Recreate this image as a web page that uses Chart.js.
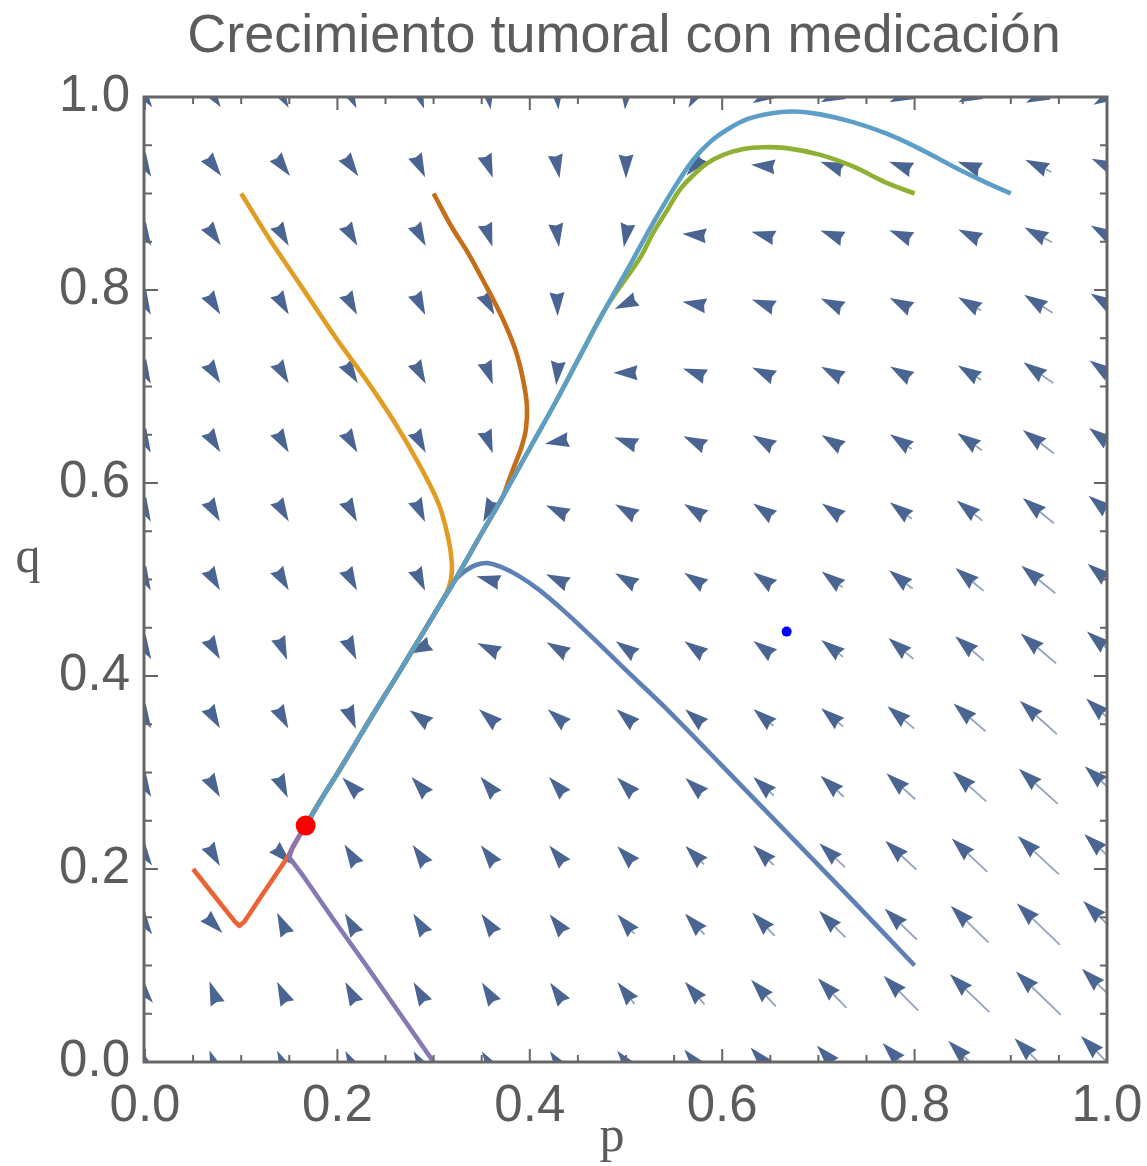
<!DOCTYPE html>
<html>
<head>
<meta charset="utf-8">
<title>Crecimiento tumoral con medicación</title>
<script src="https://cdn.jsdelivr.net/npm/chart.js@4.4.1/dist/chart.umd.min.js"></script>
<style>
  html, body { margin: 0; padding: 0; background: #fff; }
  #wrap { width: 1147px; height: 1166px; }
</style>
</head>
<body>
<div id="wrap"><canvas id="phaseChart" width="1147" height="1166"></canvas></div>
<script>
// grid where the field arrows sit (same for p and q)
const gridValues = [0, 0.0714, 0.1429, 0.2143, 0.2857, 0.3571, 0.4286, 0.5, 0.5714, 0.6429, 0.7143, 0.7857, 0.8571, 0.9286, 1];

// arrow direction in degrees, one row per q value (bottom row first)
const fieldAngle = [
  [-40, 110, 115, 118, 120, 122, 125, 128, 130, 132, 133, 134, 135, 135, 135],
  [-50, 110, 115, 118, 120, 122, 125, 128, 131, 133, 134, 135, 136, 136, 136],
  [-55, -45, 115, 120, 122, 125, 128, 131, 133, 134, 135, 136, 136, 136, 136],
  [-55, -60, -45, 122, 125, 128, 130, 134, 135, 136, 137, 137, 137, 137, 137],
  [-60, -60, -65, 135, 132, 130, 132, 136, 138, 138, 138, 138, 138, 138, 138],
  [-60, -60, -62, -68, 145, 140, 140, 140, 140, 140, 140, 140, 139, 138, 138],
  [-60, -60, -68, -65, -155, 155, 150, 145, 145, 143, 142, 140, 140, 140, 140],
  [-62, -60, -60, -62, -65, 165, 155, 150, 147, 145, 143, 142, 141, 141, 141],
  [-62, -60, -60, -62, -65, -115, 155, 150, 148, 146, 145, 143, 142, 141, 141],
  [-62, -58, -60, -60, -62, -70, -170, 160, 155, 150, 148, 146, 145, 143, 143],
  [-62, -58, -60, -58, -62, -70, -95, 180, 160, 155, 152, 150, 148, 145, 145],
  [-62, -58, -60, -62, -64, -62, -88, -155, 170, 160, 155, 153, 150, 148, 148],
  [-60, -55, -60, -60, -62, -72, -82, -100, 175, 165, 160, 158, 155, 152, 150],
  [-60, -53, -53, -55, -65, -70, -80, -90, -130, 175, 160, 160, 160, 155, 155],
  [-55, -55, -60, -65, -70, -80, -85, -95, -120, -150, -155, -155, -155, -155, -150]
];

// relative arrow length (1 = head only)
const fieldMagnitude = [
  [1, 1, 1, 1, 1, 1, 1.05, 1.15, 1.3, 1.55, 1.8, 2.1, 2.4, 2.7, 2.95],
  [1, 1, 1, 1, 1, 1, 1, 1.1, 1.2, 1.45, 1.65, 1.95, 2.2, 2.5, 2.8],
  [1, 1, 1, 1, 1, 1, 1, 1.05, 1.15, 1.3, 1.5, 1.8, 2.1, 2.4, 2.65],
  [1, 1, 1, 1, 1, 1, 1, 1, 1.05, 1.15, 1.4, 1.7, 1.95, 2.25, 2.5],
  [1, 1, 1, 1, 1, 1, 1, 1, 1, 1.1, 1.25, 1.55, 1.8, 2.1, 2.4],
  [1, 1, 1, 1, 1, 1, 1, 1, 1, 1.05, 1.15, 1.4, 1.7, 2.0, 2.25],
  [1, 1, 1, 1, 1, 1, 1, 1, 1, 1, 1.1, 1.3, 1.5, 1.85, 2.1],
  [1, 1, 1, 1, 1, 1, 1, 1, 1, 1, 1.05, 1.2, 1.45, 1.75, 2.0],
  [1, 1, 1, 1, 1, 1, 1, 1, 1, 1, 1, 1.1, 1.3, 1.6, 1.9],
  [1, 1, 1, 1, 1, 1, 1, 1, 1, 1, 1, 1.05, 1.2, 1.55, 1.8],
  [1, 1, 1, 1, 1, 1, 1, 1, 1, 1, 1, 1, 1.1, 1.45, 1.7],
  [1, 1, 1, 1, 1, 1, 1, 1, 1, 1, 1, 1, 1.05, 1.35, 1.55],
  [1, 1, 1, 1, 1, 1, 1, 1, 1, 1, 1, 1, 1, 1.25, 1.5],
  [1, 1, 1, 1, 1, 1, 1, 1, 1, 1, 1, 1, 1, 1.15, 1.35],
  [1, 1, 1, 1, 1, 1, 1, 1, 1, 1, 1, 1, 1, 1.1, 1.25]
];

// slow branch every orbit ends on, from its upper part down to the stable point
const slowBranch = [
  [0.507, 0.831], [0.48, 0.783], [0.455, 0.737], [0.428, 0.686], [0.4, 0.636],
  [0.372, 0.586], [0.346, 0.541], [0.322, 0.499], [0.3, 0.463], [0.28, 0.43],
  [0.26, 0.397], [0.24, 0.365], [0.22, 0.332], [0.2, 0.299], [0.183, 0.272], [0.167, 0.245]
];

// the individual orbits up to where they meet the slow branch
const orbitA = [[0.8, 0.1], [0.733, 0.17], [0.666, 0.239], [0.598, 0.309], [0.54, 0.368], [0.5, 0.406],
  [0.465, 0.44], [0.436, 0.467], [0.41, 0.489], [0.388, 0.504], [0.37, 0.513], [0.356, 0.517],
  [0.344, 0.515], [0.333, 0.509]];
const orbitB = [[0.1, 0.9], [0.128, 0.855], [0.163, 0.803], [0.198, 0.751], [0.232, 0.704], [0.26, 0.662],
  [0.284, 0.621], [0.305, 0.579], [0.315, 0.544], [0.319, 0.517], [0.318, 0.5], [0.313, 0.485]];
const orbitC = [[0.8, 0.9], [0.771, 0.911], [0.736, 0.928], [0.702, 0.94], [0.667, 0.947], [0.642, 0.948],
  [0.622, 0.946], [0.601, 0.94], [0.584, 0.931], [0.57, 0.919], [0.556, 0.904], [0.543, 0.883],
  [0.528, 0.859], [0.515, 0.834]];
const orbitD = [[0.05, 0.2], [0.073, 0.171], [0.093, 0.146], [0.098, 0.141], [0.103, 0.145], [0.125, 0.178],
  [0.148, 0.212], [0.158, 0.23], [0.167, 0.245]];
const orbitE = [[0.3, 0.0], [0.265, 0.05], [0.23, 0.1], [0.195, 0.149], [0.165, 0.192], [0.15, 0.212],
  [0.153, 0.222], [0.16, 0.234], [0.167, 0.245]];
const orbitF = [[0.3, 0.9], [0.319, 0.865], [0.336, 0.838], [0.353, 0.807], [0.371, 0.772], [0.385, 0.738],
  [0.393, 0.707], [0.397, 0.68], [0.396, 0.656], [0.391, 0.636], [0.384, 0.618], [0.378, 0.602]];
const orbitG = [[0.9, 0.9], [0.875, 0.911], [0.84, 0.928], [0.806, 0.946], [0.771, 0.962], [0.736, 0.974],
  [0.702, 0.982], [0.674, 0.985], [0.65, 0.983], [0.626, 0.977], [0.605, 0.966], [0.587, 0.953],
  [0.57, 0.935], [0.549, 0.904], [0.528, 0.869]];

const stablePoint = [0.167, 0.245];
const otherPoint = [0.667, 0.446];

const axisTicks = [0, 0.2, 0.4, 0.6, 0.8, 1];
const minorTicks = [0.05, 0.1, 0.15, 0.25, 0.3, 0.35, 0.45, 0.5, 0.55, 0.65, 0.7, 0.75, 0.85, 0.9, 0.95];

const palette = ['#5e81b5', '#e19c24', '#8fb032', '#eb6235', '#8778b3', '#c56e1a', '#5d9ec7'];

const TEXT_GRAY = '#5c5c5c';
const FRAME_GRAY = '#666666';
const ARROW_UNIT = 25;
const HEAD_LEN = 24;
const HEAD_W = 15;

function toXY(pts) {
  return pts.map(([p, q]) => ({ x: p, y: q }));
}

// orbit followed by the part of the slow branch below its last point
function withBranch(pts) {
  const lastQ = pts[pts.length - 1][1];
  return toXY(pts.concat(slowBranch.filter(pt => pt[1] < lastQ - 0.005)));
}

function drawArrow(ctx, cx, cy, deg, len) {
  const rad = deg * Math.PI / 180;
  const dx = Math.cos(rad), dy = -Math.sin(rad);
  const nx = -dy, ny = dx;
  const tipX = cx + dx * len / 2, tipY = cy + dy * len / 2;
  const head = Math.min(HEAD_LEN, len);
  const bx = tipX - dx * head, by = tipY - dy * head;
  if (len > HEAD_LEN + 1) {
    ctx.strokeStyle = 'rgba(74, 101, 146, 0.6)';
    ctx.lineWidth = 1.8;
    ctx.beginPath();
    ctx.moveTo(cx - dx * len / 2, cy - dy * len / 2);
    ctx.lineTo(bx + dx * 3, by + dy * 3);
    ctx.stroke();
  }
  ctx.fillStyle = '#4a6592';
  ctx.beginPath();
  ctx.moveTo(tipX, tipY);
  ctx.lineTo(bx + nx * HEAD_W / 2, by + ny * HEAD_W / 2);
  ctx.lineTo(bx + dx * 2, by + dy * 2);
  ctx.lineTo(bx - nx * HEAD_W / 2, by - ny * HEAD_W / 2);
  ctx.closePath();
  ctx.fill();
}

const vectorField = {
  id: 'vectorField',
  beforeDatasetsDraw(chart) {
    const { ctx, chartArea: a, scales: { x, y } } = chart;
    ctx.save();
    ctx.beginPath();
    ctx.rect(a.left, a.top, a.right - a.left, a.bottom - a.top);
    ctx.clip();
    fieldAngle.forEach((row, j) => {
      row.forEach((deg, k) => {
        drawArrow(ctx, x.getPixelForValue(gridValues[k]), y.getPixelForValue(gridValues[j]),
          deg, fieldMagnitude[j][k] * ARROW_UNIT);
      });
    });
    ctx.restore();
  }
};

// frame with inward ticks on all sides, title and axis letters
const frame = {
  id: 'frame',
  afterDraw(chart) {
    const { ctx, chartArea: a, scales: { x, y } } = chart;
    ctx.save();
    ctx.strokeStyle = FRAME_GRAY;
    ctx.lineWidth = 2;
    const tick = (v, len) => {
      const px = x.getPixelForValue(v), py = y.getPixelForValue(v);
      ctx.beginPath();
      ctx.moveTo(px, a.bottom); ctx.lineTo(px, a.bottom - len);
      ctx.moveTo(px, a.top); ctx.lineTo(px, a.top + len);
      ctx.moveTo(a.left, py); ctx.lineTo(a.left + len, py);
      ctx.moveTo(a.right, py); ctx.lineTo(a.right - len, py);
      ctx.stroke();
    };
    axisTicks.forEach(v => tick(v, 13));
    minorTicks.forEach(v => tick(v, 7));
    ctx.lineWidth = 3;
    ctx.strokeRect(a.left - 1, a.top, a.right - a.left + 1, a.bottom - a.top);

    ctx.fillStyle = TEXT_GRAY;
    ctx.textAlign = 'center';
    ctx.textBaseline = 'alphabetic';
    ctx.font = '54px "Liberation Sans", Arial, sans-serif';
    ctx.fillText('Crecimiento tumoral con medicación', (a.left + a.right) / 2 - 2, 52);
    ctx.font = '50px "Liberation Serif", "Times New Roman", serif';
    ctx.fillText('p', (a.left + a.right) / 2 - 14, 1151);
    ctx.fillText('q', 28, 572);
    ctx.restore();
  }
};

const lineSet = (pts, color, order, tension) => ({
  data: pts,
  showLine: true,
  borderColor: color,
  borderWidth: 4.6,
  pointRadius: 0,
  fill: false,
  tension: tension,
  borderJoinStyle: 'round',
  order: order
});

const tickFont = { family: '"Liberation Sans", Arial, sans-serif', size: 51 };

new Chart(document.getElementById('phaseChart'), {
  type: 'scatter',
  data: {
    datasets: [
      { data: toXY([stablePoint]), pointRadius: 10, pointBackgroundColor: '#ff0000', pointBorderWidth: 0, order: 0 },
      { data: toXY([otherPoint]), pointRadius: 5, pointBackgroundColor: '#0000ff', pointBorderWidth: 0, order: 0 },
      lineSet(withBranch(orbitG), palette[6], 1, 0.4),
      lineSet(withBranch(orbitF), palette[5], 2, 0.35),
      lineSet(toXY(orbitE), palette[4], 3, 0),
      lineSet(toXY(orbitD), palette[3], 4, 0),
      lineSet(withBranch(orbitC), palette[2], 5, 0.4),
      lineSet(withBranch(orbitB), palette[1], 6, 0.35),
      lineSet(withBranch(orbitA), palette[0], 7, 0.3)
    ]
  },
  options: {
    responsive: false,
    animation: false,
    devicePixelRatio: 1,
    layout: { padding: { top: 97, right: 40, left: 0, bottom: 0 } },
    plugins: { legend: { display: false }, tooltip: { enabled: false }, title: { display: false } },
    scales: {
      x: {
        type: 'linear', min: 0, max: 1,
        grid: { display: false, drawTicks: false },
        border: { display: false },
        afterBuildTicks: s => { s.ticks = axisTicks.map(v => ({ value: v })); },
        afterFit: s => { s.height = 104; s.paddingLeft = 0; s.paddingRight = 0; },
        ticks: { font: tickFont, color: TEXT_GRAY, padding: 14, maxRotation: 0, autoSkip: false,
          callback: v => v.toFixed(1) }
      },
      y: {
        type: 'linear', min: 0, max: 1,
        grid: { display: false, drawTicks: false },
        border: { display: false },
        afterBuildTicks: s => { s.ticks = axisTicks.map(v => ({ value: v })); },
        afterFit: s => { s.width = 145; s.paddingTop = 0; s.paddingBottom = 0; },
        ticks: { font: tickFont, color: TEXT_GRAY, padding: 15, autoSkip: false,
          callback: v => v.toFixed(1) }
      }
    }
  },
  plugins: [vectorField, frame]
});
</script>
</body>
</html>
